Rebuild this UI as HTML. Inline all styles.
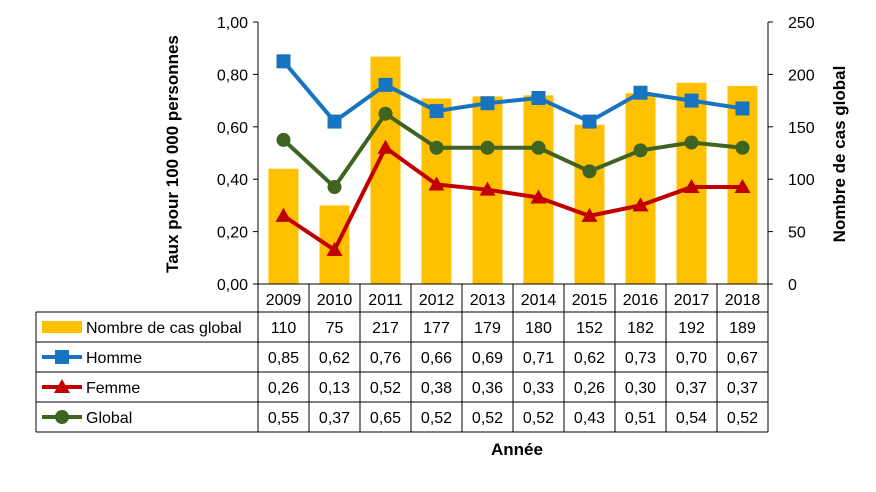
<!DOCTYPE html>
<html><head><meta charset="utf-8"><style>
body{margin:0;background:#fff;font-family:"Liberation Sans",Arial,sans-serif}
svg text{font-family:"Liberation Sans",Arial,sans-serif}
</style></head><body>
<svg id="c" width="876" height="487" xmlns="http://www.w3.org/2000/svg"></svg>
<script>
const years=["2009","2010","2011","2012","2013","2014","2015","2016","2017","2018"];
const cases=[110,75,217,177,179,180,152,182,192,189];
const homme=[0.85,0.62,0.76,0.66,0.69,0.71,0.62,0.73,0.70,0.67];
const femme=[0.26,0.13,0.52,0.38,0.36,0.33,0.26,0.30,0.37,0.37];
const globalV=[0.55,0.37,0.65,0.52,0.52,0.52,0.43,0.51,0.54,0.52];
const leftTicks=["0,00","0,20","0,40","0,60","0,80","1,00"];
const rightTicks=["0","50","100","150","200","250"];

const svg=document.getElementById('c');const NS="http://www.w3.org/2000/svg";
function el(t,a,p){const e=document.createElementNS(NS,t);for(const k in a)e.setAttribute(k,a[k]);(p||svg).appendChild(e);return e;}
const X0=258,X1=768,Y0=284,Y1=22,tL=36;
const cw=(X1-X0)/years.length;
const xc=i=>X0+cw*(i+0.5);
const yL=v=>Y0-(v/1)*(Y0-Y1);
const yR=v=>Y0-(v/250)*(Y0-Y1);
const fmt=v=>v.toFixed(2).replace('.',',');

// bars
cases.forEach((v,i)=>{const r=el('rect',{x:xc(i)-15,y:yR(v),width:30,height:Y0-yR(v),fill:'#FFC000'});

});
// axes
const ax=el('path',{d:`M${X0},${Y1}V${Y0}M${X1},${Y1}V${Y0}`,stroke:'#000','stroke-width':1,fill:'none'});

leftTicks.forEach((t,i)=>{const y=Y0-i*(Y0-Y1)/5;
el('line',{x1:X0-5,x2:X0,y1:y,y2:y,stroke:'#000'});el('line',{x1:X1,x2:X1+5,y1:y,y2:y,stroke:'#000'});
const a=el('text',{x:X0-10,y:y+6,'text-anchor':'end','font-size':16});a.textContent=t;

const b=el('text',{x:X1+20,y:y+6,'font-size':16});b.textContent=rightTicks[i];
});

function series(vals,color,marker,name){
 const d=vals.map((v,i)=>(i?'L':'M')+xc(i)+','+yL(v)).join('');
 const p=el('path',{d,stroke:color,'stroke-width':4,fill:'none'});
 
 vals.forEach((v,i)=>{const m=drawMarker(xc(i),yL(v),color,marker);
 });
}
function drawMarker(x,y,color,type){
 if(type==='sq')return el('rect',{x:x-7,y:y-7,width:14,height:14,fill:color});
 if(type==='tri')return el('polygon',{points:`${x},${y-8} ${x+8},${y+6} ${x-8},${y+6}`,fill:color});
 return el('circle',{cx:x,cy:y,r:7,fill:color});
}
series(globalV,'#3F6321','ci','global');
series(femme,'#C00000','tri','femme');
series(homme,'#1874C0','sq','homme');

// table
const rows=[312,342,372,402,432];
const g=el('g',{stroke:'#000','stroke-width':1,fill:'none'});

el('line',{x1:X0,x2:X1,y1:Y0,y2:Y0},g);
rows.forEach(y=>el('line',{x1:tL,x2:X1,y1:y,y2:y},g));
el('line',{x1:tL,x2:tL,y1:312,y2:432},g);
for(let i=0;i<=years.length;i++)el('line',{x1:X0+cw*i,x2:X0+cw*i,y1:Y0,y2:432},g);
years.forEach((yv,i)=>{const t=el('text',{x:xc(i),y:305,'text-anchor':'middle','font-size':16});t.textContent=yv;
});
const tab=[["Nombre de cas global",cases.map(String),'#FFC000','bar'],["Homme",homme.map(fmt),'#1874C0','sq'],["Femme",femme.map(fmt),'#C00000','tri'],["Global",globalV.map(fmt),'#3F6321','ci']];
tab.forEach((r,j)=>{const yc=rows[j]+15;
 if(r[3]==='bar')el('rect',{x:42,y:yc-6,width:40,height:12,fill:r[2]});
 else{el('line',{x1:42,x2:82,y1:yc,y2:yc,stroke:r[2],'stroke-width':4});drawMarker(62,yc,r[2],r[3]);}
 const l=el('text',{x:86,y:yc+6,'font-size':16});l.textContent=r[0];
 
 r[1].forEach((v,i)=>{const t=el('text',{x:xc(i),y:yc+6,'text-anchor':'middle','font-size':16});t.textContent=v;
 });
});
const t1=el('text',{transform:'translate(178,154) rotate(-90)','text-anchor':'middle','font-size':17,'font-weight':'bold'});t1.textContent='Taux pour 100 000 personnes';

const t2=el('text',{transform:'translate(845,154) rotate(-90)','text-anchor':'middle','font-size':17,'font-weight':'bold'});t2.textContent='Nombre de cas global';

const t3=el('text',{x:517,y:455,'text-anchor':'middle','font-size':17,'font-weight':'bold'});t3.textContent='Année';

</script>
</body></html>
